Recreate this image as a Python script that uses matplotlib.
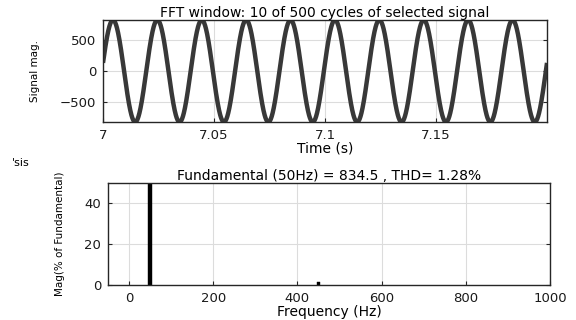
import numpy as np
import matplotlib
matplotlib.use("Agg")
import matplotlib.pyplot as plt

# ---- data ----
window_start = 7.0          # s
window_cycles = 10
fundamental_hz = 50.0
fundamental_mag = 834.5
start_phase = 0.16          # rad, read from the value at t = 7 s
harmonic_freqs = [50, 450]          # Hz
harmonic_mags = [100.0, 1.28]       # % of fundamental
time_ticks = [7, 7.05, 7.1, 7.15]
time_ticklabels = ["7", "7.05", "7.1", "7.15"]
sig_ticks = [-500, 0, 500]
freq_ticks = [0, 200, 400, 600, 800, 1000]
mag_ticks = [0, 20, 40]

# waveform defined by the fundamental stated on the chart
window_len = window_cycles / fundamental_hz
t = np.linspace(window_start, window_start + window_len, 2001)
signal = fundamental_mag * np.sin(2 * np.pi * fundamental_hz * (t - window_start) + start_phase)

plt.rcParams['font.family'] = ['DejaVu Sans']
fig = plt.figure(figsize=(5.76, 3.2), dpi=100)

grid_kw = dict(color='#dcdcdc', linewidth=0.8)
spine_c = '#262626'

# ---- top axes: signal ----
ax1 = fig.add_axes([103/576, 1-122/320, 444/576, 102/320])
ax1.plot(t, signal, color='#383838', linewidth=3.2, solid_capstyle='butt')
ax1.set_xlim(window_start, window_start + window_len)
ax1.set_ylim(-fundamental_mag, fundamental_mag)
ax1.set_xticks(time_ticks)
ax1.set_xticklabels(time_ticklabels)
ax1.set_yticks(sig_ticks)
ax1.grid(True, **grid_kw)
ax1.set_axisbelow(True)
ax1.set_title("FFT window: 10 of 500 cycles of selected signal", fontsize=10, pad=1.5)
ax1.set_xlabel("Time (s)", fontsize=10, labelpad=0)
ax1.set_ylabel("Signal mag.", fontsize=7.5, labelpad=14)

# ---- bottom axes: spectrum ----
ax2 = fig.add_axes([108/576, 1-285/320, 442/576, 102/320])
ax2.bar(harmonic_freqs, harmonic_mags, width=8, color='black', edgecolor='black', linewidth=0.3)
ax2.set_xlim(-50, 1000)
ax2.set_ylim(0, 50)
ax2.set_xticks(freq_ticks)
ax2.set_yticks(mag_ticks)
ax2.grid(True, **grid_kw)
ax2.set_axisbelow(True)
ax2.set_title("Fundamental (50Hz) = 834.5 , THD= 1.28%", fontsize=10, pad=1.5)
ax2.set_xlabel("Frequency (Hz)", fontsize=10, labelpad=0)
ax2.set_ylabel("Mag(% of Fundamental)", fontsize=7.5, labelpad=14)

for ax in (ax1, ax2):
    for s in ax.spines.values():
        s.set_color(spine_c)
        s.set_linewidth(1.0)
    ax.tick_params(direction='in', length=3, width=0.8, colors=spine_c,
                   labelsize=9.5, top=False, right=True, labelcolor='#1a1a1a', pad=5)

fig.text(12/576, 1-163/320, "'sis", fontsize=8, ha='left', va='center')

fig.savefig("out.png", dpi=100, facecolor='white')
